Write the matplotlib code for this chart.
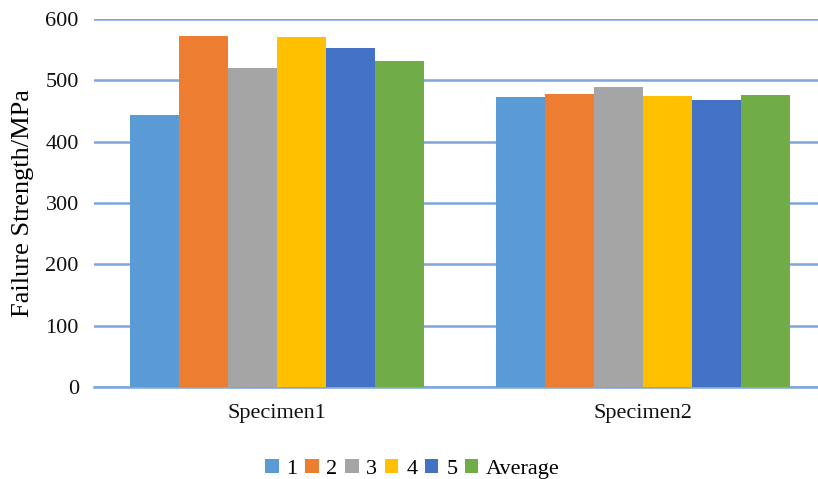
import numpy as np
import matplotlib.pyplot as plt

plt.rcParams['font.family'] = ['Liberation Serif', 'DejaVu Serif']

# Failure strength of each specimen, five tests plus their average
specimens = ['Specimen1', 'Specimen2']
series = ['1', '2', '3', '4', '5', 'Average']
strength = {
    '1': [443, 473],
    '2': [572, 478],
    '3': [520, 490],
    '4': [571, 474],
    '5': [553, 468],
    'Average': [532, 477],
}
colors = ['#5B9BD5', '#ED7D31', '#A5A5A5', '#FFC000', '#4472C4', '#70AD47']
grid_col = '#7EA6D8'

fig = plt.figure(figsize=(8.18, 4.79), dpi=100)
ax = fig.add_axes([0.115, 0.192, 0.885, 0.768])

x = np.arange(len(specimens))
w = 0.134
for i, s in enumerate(series):
    ax.bar(x + (i - 2.5) * w, strength[s], w, color=colors[i], label=s, zorder=3)

ax.set_xlim(-0.5, 1.478)
ax.set_ylim(0, 600)
ax.set_yticks(range(0, 601, 100))
ax.yaxis.grid(True, color=grid_col, linewidth=1.8, zorder=0)
for sp in ['top', 'right', 'left']:
    ax.spines[sp].set_visible(False)
ax.spines['bottom'].set_color(grid_col)
ax.spines['bottom'].set_linewidth(1.8)
ax.tick_params(axis='both', length=0, labelsize=16, colors='#111111')
ax.tick_params(axis='y', pad=11)
ax.tick_params(axis='x', pad=12)
ax.set_xticks(x)
ax.set_xticklabels(specimens)
ax.set_ylabel('Failure Strength/MPa', fontsize=19, labelpad=8)

ax.legend(loc='center', bbox_to_anchor=(0.44, -0.222), ncol=6, frameon=False,
          fontsize=16, handlelength=0.6, handleheight=0.6, handletextpad=0.35,
          columnspacing=0.35, borderpad=0.1)

fig.savefig('out.png', dpi=100)
